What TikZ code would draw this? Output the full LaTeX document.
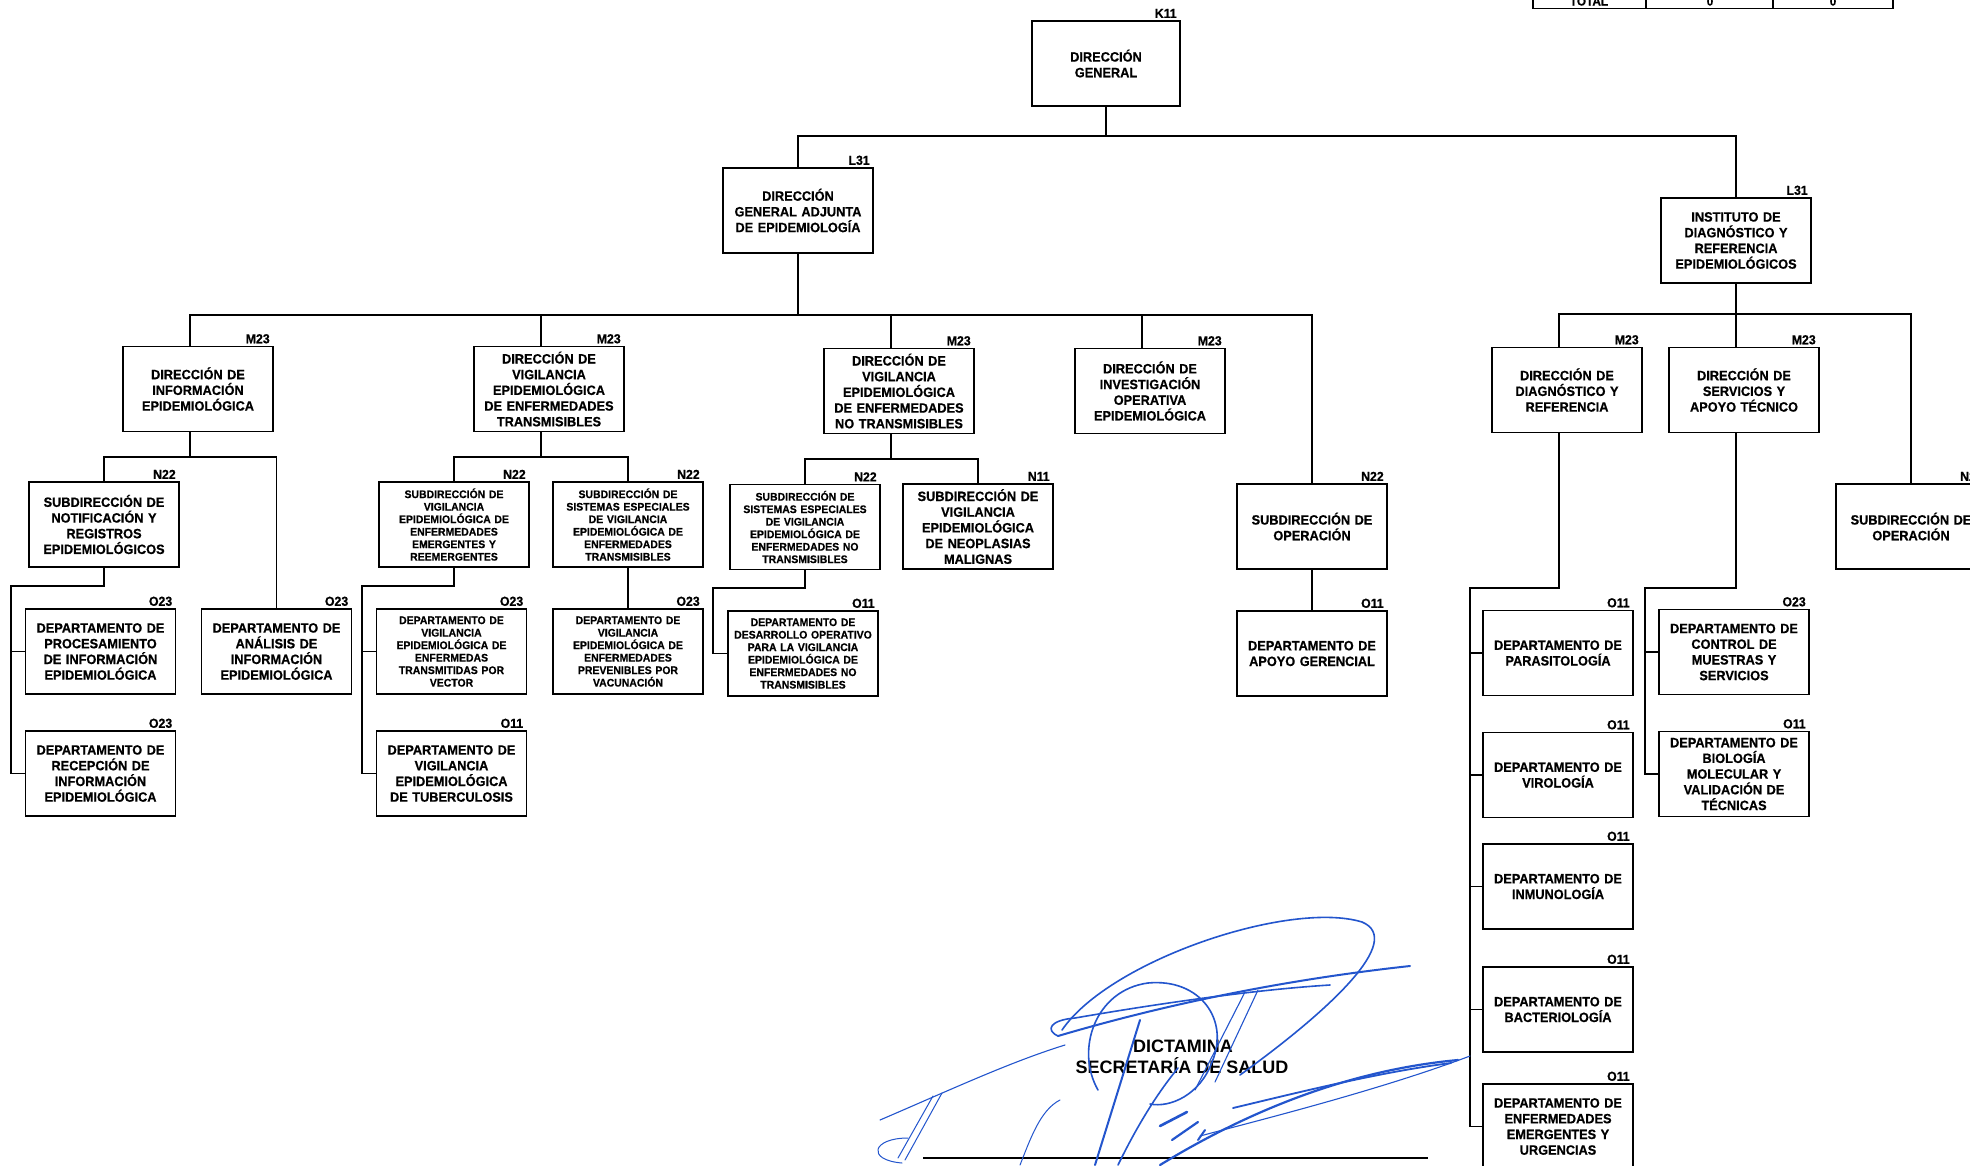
\documentclass[tikz,border=0pt]{standalone}
\usepackage{fontspec}
\setmainfont{Liberation Sans}
\newfontfamily\boxfam{Liberation Sans}[FakeStretch=0.945, BoldFeatures={FakeBold=0.6}]
\newfontfamily\smfam{Liberation Sans}[FakeStretch=0.95, BoldFeatures={FakeBold=0.5}]
\usetikzlibrary{calc}
\definecolor{sigblue}{RGB}{35,85,205}
\newcommand\mainf{\boxfam\bfseries\fontsize{13.5pt}{15.7pt}\selectfont}
\newcommand\smallf{\smfam\bfseries\fontsize{11pt}{12.5pt}\selectfont}
\newcommand\labf{\boxfam\bfseries\fontsize{13pt}{14pt}\selectfont}
\newcommand\tabf{\boxfam\bfseries\fontsize{12.5pt}{13pt}\selectfont}
\newcommand\sigf{\normalfont\bfseries\fontsize{18pt}{20pt}\selectfont}
\tikzset{
  box/.style={draw, line width=1.8pt, minimum width=150pt, minimum height=85pt,
    inner sep=0pt, text width=146pt, align=center, font=\mainf},
  sbox/.style={box, font=\smallf},
  conn/.style={line width=1.6pt},
  lab/.style={font=\labf, anchor=south east, inner sep=0pt},
  sig/.style={draw=sigblue, line width=1.6pt, line cap=round, line join=round},
}
\begin{document}
\begin{tikzpicture}[x=1pt,y=-1pt]
\useasboundingbox (0,0) rectangle (1970,1165);
\clip (0,0) rectangle (1970,1165);
\fill[white] (0,0) rectangle (1970,1165);

% ---------- boxes ----------
\node[box, minimum width=148pt] (dg) at (1106,63.5) {DIRECCIÓN\\GENERAL};
\node[box] (dga) at (798,210.5) {DIRECCIÓN\\GENERAL ADJUNTA\\DE EPIDEMIOLOGÍA};
\node[box] (idre) at (1736,240.5) {INSTITUTO DE\\DIAGNÓSTICO Y\\REFERENCIA\\EPIDEMIOLÓGICOS};

\node[box] (m1) at (198,389) {DIRECCIÓN DE\\INFORMACIÓN\\EPIDEMIOLÓGICA};
\node[box] (m2) at (549,389) {DIRECCIÓN DE\\VIGILANCIA\\EPIDEMIOLÓGICA\\DE ENFERMEDADES\\TRANSMISIBLES};
\node[box] (m3) at (899,391) {DIRECCIÓN DE\\VIGILANCIA\\EPIDEMIOLÓGICA\\DE ENFERMEDADES\\NO TRANSMISIBLES};
\node[box] (m4) at (1150,391) {DIRECCIÓN DE\\INVESTIGACIÓN\\OPERATIVA\\EPIDEMIOLÓGICA};
\node[box] (m5) at (1567,390) {DIRECCIÓN DE\\DIAGNÓSTICO Y\\REFERENCIA};
\node[box] (m6) at (1744,390) {DIRECCIÓN DE\\SERVICIOS Y\\APOYO TÉCNICO};

\node[box] (n1) at (104,524.5) {SUBDIRECCIÓN DE\\NOTIFICACIÓN Y\\REGISTROS\\EPIDEMIOLÓGICOS};
\node[sbox] (n2) at (454,524.5) {SUBDIRECCIÓN DE\\VIGILANCIA\\EPIDEMIOLÓGICA DE\\ENFERMEDADES\\EMERGENTES Y\\REEMERGENTES};
\node[sbox] (n3) at (628,524.5) {SUBDIRECCIÓN DE\\SISTEMAS ESPECIALES\\DE VIGILANCIA\\EPIDEMIOLÓGICA DE\\ENFERMEDADES\\TRANSMISIBLES};
\node[sbox] (n4) at (805,527) {SUBDIRECCIÓN DE\\SISTEMAS ESPECIALES\\DE VIGILANCIA\\EPIDEMIOLÓGICA DE\\ENFERMEDADES NO\\TRANSMISIBLES};
\node[box] (n5) at (978,526.5) {SUBDIRECCIÓN DE\\VIGILANCIA\\EPIDEMIOLÓGICA\\DE NEOPLASIAS\\MALIGNAS};
\node[box] (n6) at (1312,526.5) {SUBDIRECCIÓN DE\\OPERACIÓN};
\node[box] (n7) at (1911,526.5) {SUBDIRECCIÓN DE\\OPERACIÓN};

\node[box] (o1) at (100.5,651.5) {DEPARTAMENTO DE\\PROCESAMIENTO\\DE INFORMACIÓN\\EPIDEMIOLÓGICA};
\node[box] (o2) at (276.5,651.5) {DEPARTAMENTO DE\\ANÁLISIS DE\\INFORMACIÓN\\EPIDEMIOLÓGICA};
\node[box] (o3) at (100.5,773.5) {DEPARTAMENTO DE\\RECEPCIÓN DE\\INFORMACIÓN\\EPIDEMIOLÓGICA};
\node[sbox] (o4) at (451.5,651.5) {DEPARTAMENTO DE\\VIGILANCIA\\EPIDEMIOLÓGICA DE\\ENFERMEDAS\\TRANSMITIDAS POR\\VECTOR};
\node[box] (o5) at (451.5,773.5) {DEPARTAMENTO DE\\VIGILANCIA\\EPIDEMIOLÓGICA\\DE TUBERCULOSIS};
\node[sbox] (o6) at (628,651.5) {DEPARTAMENTO DE\\VIGILANCIA\\EPIDEMIOLÓGICA DE\\ENFERMEDADES\\PREVENIBLES POR\\VACUNACIÓN};
\node[sbox] (o7) at (803,653.5) {DEPARTAMENTO DE\\DESARROLLO OPERATIVO\\PARA LA VIGILANCIA\\EPIDEMIOLÓGICA DE\\ENFERMEDADES NO\\TRANSMISIBLES};
\node[box] (o8) at (1312,653.5) {DEPARTAMENTO DE\\APOYO GERENCIAL};
\node[box] (o9) at (1558,653) {DEPARTAMENTO DE\\PARASITOLOGÍA};
\node[box] (o10) at (1558,775) {DEPARTAMENTO DE\\VIROLOGÍA};
\node[box] (o11) at (1558,886.5) {DEPARTAMENTO DE\\INMUNOLOGÍA};
\node[box] (o12) at (1558,1009.5) {DEPARTAMENTO DE\\BACTERIOLOGÍA};
\node[box] (o13) at (1558,1126.5) {DEPARTAMENTO DE\\ENFERMEDADES\\EMERGENTES Y\\URGENCIAS};
\node[box] (o14) at (1734,652) {DEPARTAMENTO DE\\CONTROL DE\\MUESTRAS Y\\SERVICIOS};
\node[box] (o15) at (1734,774) {DEPARTAMENTO DE\\BIOLOGÍA\\MOLECULAR Y\\VALIDACIÓN DE\\TÉCNICAS};

% ---------- level codes ----------
\foreach \n/\t in {dg/K11, dga/L31, idre/L31, m1/M23, m2/M23, m3/M23, m4/M23, m5/M23, m6/M23,
  n1/N22, n2/N22, n3/N22, n4/N22, n5/N11, n6/N22, n7/N22,
  o1/O23, o2/O23, o3/O23, o4/O23, o5/O11, o6/O23, o7/O11, o8/O11, o9/O11, o10/O11,
  o11/O11, o12/O11, o13/O11, o14/O23, o15/O11}
  \node[lab] (\n lab) at ($(\n.north east)+(-4,-2)$) {\t};

% ---------- helper coordinates ----------
\coordinate (y136) at (0,136);
\coordinate (y315) at (0,315);
\coordinate (y314) at (0,314);
\coordinate (y457) at (0,457);
\coordinate (y459) at (0,459);
\coordinate (y586) at (0,586);
\coordinate (y588) at (0,588);
\coordinate (x11) at (11,0);
\coordinate (x362) at (362,0);
\coordinate (x713) at (713,0);
\coordinate (x1470) at (1470,0);
\coordinate (x1645) at (1645,0);
\foreach \m in {m1,m2,m3,m4,m5,m6}{
  \coordinate (\m t) at ($(\m.north)+(-8,0)$);
  \coordinate (\m b) at ($(\m.south)+(-8,0)$);
}

% ---------- connectors ----------
\draw[conn] (dg.south) -- (dg.south |- y136);
\draw[conn] (dga.north) |- (idre.north |- y136) -- (idre.north);

\draw[conn] (dga.south) -- (dga.south |- y315);
\draw[conn] (m1t) |- (n6.north |- y315) -- (n6.north);
\foreach \m in {m2t,m3t,m4t} \draw[conn] (\m) -- (\m |- y315);

\draw[conn] (idre.south) -- (idre.south |- y314);
\draw[conn] (m5t) |- (n7.north |- y314) -- (n7.north);
\draw[conn] (m6t) -- (m6t |- y314);

\draw[conn] (m1b) -- (m1b |- y457);
\draw[conn] (n1.north) |- (o2.north |- y457) -- (o2.north);
\draw[conn] (m2b) -- (m2b |- y457);
\draw[conn] (n2.north) |- (n3.north |- y457) -- (n3.north);
\draw[conn] (n3.south) -- (o6.north);
\draw[conn] (m3b) -- (m3b |- y459);
\draw[conn] (n4.north) |- (n5.north |- y459) -- (n5.north);
\draw[conn] (n6.south) -- (o8.north);

\draw[conn] (n1.south) -- (n1.south |- y586) -| (x11 |- o3.west) -- (o3.west);
\draw[conn] (x11 |- o1.west) -- (o1.west);
\draw[conn] (n2.south) -- (n2.south |- y586) -| (x362 |- o5.west) -- (o5.west);
\draw[conn] (x362 |- o4.west) -- (o4.west);
\draw[conn] (n4.south) -- (n4.south |- y588) -| (x713 |- o7.west) -- (o7.west);
\draw[conn] (m5b) -- (m5b |- y588) -| (x1470 |- o13.west) -- (o13.west);
\foreach \o in {o9,o10,o11,o12} \draw[conn] (x1470 |- \o.west) -- (\o.west);
\draw[conn] (m6b) -- (m6b |- y588) -| (x1645 |- o15.west) -- (o15.west);
\draw[conn] (x1645 |- o14.west) -- (o14.west);

% ---------- table fragment (top right) ----------
\draw[line width=1.4pt] (1533,-10) -- (1533,8.5) -- (1893,8.5) -- (1893,-10);
\draw[line width=1.4pt] (1646,-10) -- (1646,8.5) (1773,-10) -- (1773,8.5);
\node[font=\tabf, anchor=base, inner sep=0pt] (ttotal) at (1589,5.5) {TOTAL};
\node[font=\tabf, anchor=base, inner sep=0pt] (tzeroa) at (1710,5.5) {0};
\node[font=\tabf, anchor=base, inner sep=0pt] (tzerob) at (1833,5.5) {0};

% ---------- signature block ----------
\draw[line width=1.2pt] (923,1158) -- (1428,1158);
\node[font=\sigf, anchor=base, inner sep=0pt] (dict) at (1183,1052) {DICTAMINA};
\node[font=\sigf, anchor=base, inner sep=0pt] (ssa) at (1182,1073) {SECRETARÍA DE SALUD};

\draw[sig, line width=1.1pt] (880,1120) .. controls (950,1090) and (1010,1062) .. (1065,1045);
\draw[sig, line width=2pt] (1058,1036) .. controls (1180,1000) and (1300,978) .. (1410,966);
\draw[sig] (1058,1036) .. controls (1045,1030) and (1050,1020) .. (1075,1018) .. controls (1150,1005) and (1250,990) .. (1330,985);
\draw[sig] (1062,1030) .. controls (1110,960) and (1290,900) .. (1362,922) .. controls (1405,940) and (1330,1010) .. (1240,1075);
\draw[sig] (1098,1090) .. controls (1075,1050) and (1095,990) .. (1148,983) .. controls (1200,978) and (1230,1020) .. (1212,1062) .. controls (1200,1095) and (1170,1108) .. (1150,1104);
\draw[sig, line width=2.2pt] (1458,1060) .. controls (1350,1070) and (1250,1110) .. (1160,1165);
\draw[sig, line width=1.1pt] (1470,1056) .. controls (1380,1090) and (1260,1120) .. (1200,1136);
\draw[sig, line width=1.8pt] (1451,1063) .. controls (1380,1072) and (1300,1092) .. (1233,1108);
\draw[sig, line width=2pt] (1095,1165) -- (1140,1020);
\draw[sig] (1118,1165) .. controls (1140,1120) and (1160,1090) .. (1178,1068);
\draw[sig, line width=1.1pt] (1245,992) -- (1195,1090);
\draw[sig, line width=1.1pt] (1258,990) -- (1215,1082);
\draw[sig, line width=2.6pt] (1160,1126) -- (1187,1112);
\draw[sig, line width=2.2pt] (1172,1140) -- (1198,1122);
\draw[sig, line width=2pt] (1205,1130) -- (1198,1140);
\draw[sig, line width=1pt] (942,1093) -- (905,1160);
\draw[sig, line width=1pt] (933,1096) -- (898,1158);
\draw[sig, line width=1pt] (908,1138) .. controls (872,1138) and (866,1160) .. (902,1163);
\draw[sig, line width=1pt] (1060,1100) .. controls (1040,1110) and (1030,1140) .. (1020,1165);
\end{tikzpicture}
\end{document}
